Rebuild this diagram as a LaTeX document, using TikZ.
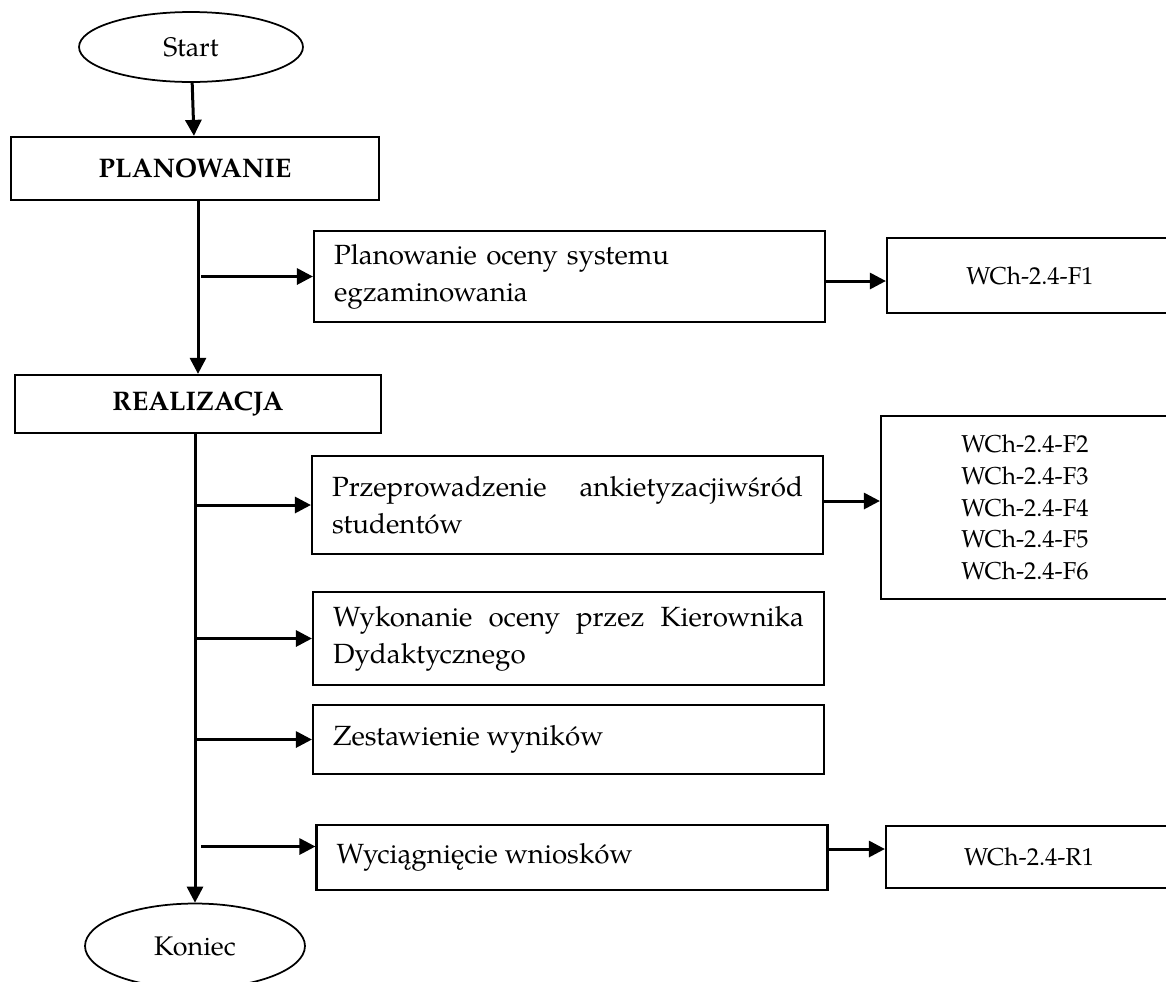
\documentclass[tikz,border=0pt]{standalone}
\usepackage{fontspec}
\setmainfont{TeX Gyre Pagella}
\usetikzlibrary{shapes.geometric, arrows.meta}

\tikzstyle{termNode} = [ellipse, draw,
                        line width = 0.35mm,
                        inner sep = 0pt,
                        font = \fontsize{15.3}{20}\selectfont
                        ]
\tikzstyle{phaseBox} = [rectangle, draw,
                        line width = 0.45mm,
                        font = \fontsize{15.3}{20}\selectfont\bfseries
                        ]
\tikzstyle{stepBox} = [rectangle, draw,
                       line width = 0.45mm,
                       text width = 9.42cm,
                       inner xsep = 0.4cm,
                       align = justify,
                       font = \fontsize{15.8}{21}\selectfont
                       ]
\tikzstyle{docBox} = [rectangle, draw,
                      line width = 0.45mm,
                      minimum width = 5.72cm,
                      align = center,
                      font = \fontsize{13.9}{18}\selectfont
                      ]
\tikzstyle{flow} = [line width = 0.6mm,
                    -{Triangle[length = 0.32cm, width = 0.32cm]}
                    ]

\begin{document}
\begin{tikzpicture}[x = 0.02cm, y = -0.02cm]

    \useasboundingbox (0, 0) rectangle (1166, 981);

    %%% Start
    \node (S) at (191, 47) [termNode, minimum width = 4.48cm, minimum height = 1.4cm]{Start};

    %%% Planowanie
    \node (P) at (195, 168.5) [phaseBox, minimum width = 7.36cm, minimum height = 1.26cm]{PLANOWANIE};
    \node (PO) at (569.5, 276.5) [stepBox, align = left, minimum height = 1.82cm]{Planowanie oceny systemu \\ egzaminowania};
    \node (F1) at (1030, 275.5) [docBox, minimum height = 1.5cm]{WCh-2.4-F1};

    %%% Realizacja
    \node (R) at (198, 404) [phaseBox, minimum width = 7.32cm, minimum height = 1.16cm]{REALIZACJA};

        % Ankiety
        \node (RA) at (567.5, 505) [stepBox, minimum height = 1.96cm]{Przeprowadzenie ankietyzacjiwśród\linebreak studentów};
        \node (FF) at (1025, 507.5) [docBox, minimum width = 5.76cm, minimum height = 3.66cm]{WCh-2.4-F2 \\ WCh-2.4-F3 \\ WCh-2.4-F4 \\ WCh-2.4-F5 \\ WCh-2.4-F6};

        % Ocena kierownika
        \node (RK) at (568.5, 638.5) [stepBox, minimum height = 1.86cm]{Wykonanie oceny przez Kierownika\linebreak Dydaktycznego};

        % Zestawienie
        \node (RZ) at (568.5, 739.5) [stepBox, minimum height = 1.38cm]{Zestawienie wyników};

        % Wnioski
        \node (RW) at (572, 857.5) [stepBox, minimum height = 1.3cm]{Wyciągnięcie wniosków};
        \node (R1) at (1029, 857) [docBox, minimum height = 1.24cm]{WCh-2.4-R1};

    %%% Koniec
    \node (K) at (195, 946) [termNode, minimum width = 4.4cm, minimum height = 1.7cm]{Koniec};

    %%% Connectors
    \draw[flow] (S) -- (P);
    \draw[flow] ([xshift = 0.06cm]P.south) -- ([xshift = 0.06cm]P.south |- R.north);
    \draw[flow] ([xshift = 0.12cm]P.south |- PO.west) -- (PO.west);
    \draw[flow] ([yshift = -0.09cm]PO.east) -- ([yshift = -0.09cm]PO.east -| F1.west);

    \draw[flow] (R.south -| K.north) -- (K.north);
    \draw[flow] (K.north |- RA.west) -- (RA.west);
    \draw[flow] ([yshift = 0.08cm]RA.east) -- ([yshift = 0.08cm]RA.east -| FF.west);
    \draw[flow] (K.north |- RK.west) -- (RK.west);
    \draw[flow] (K.north |- RZ.west) -- (RZ.west);
    \draw[flow] ([xshift = 0.12cm, yshift = 0.22cm]K.north |- RW.west) -- ([yshift = 0.22cm]RW.west);
    \draw[flow] ([yshift = 0.17cm]RW.east) -- ([yshift = 0.17cm]RW.east -| R1.west);

\end{tikzpicture}
\end{document}
